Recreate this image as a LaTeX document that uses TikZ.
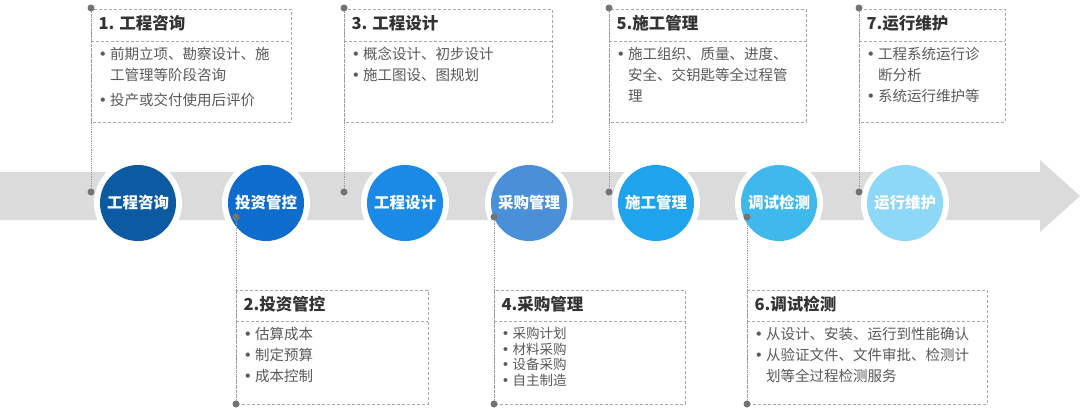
\documentclass[tikz,border=0pt]{standalone}
\usepackage{fontspec}
\setmainfont{Noto Sans CJK SC}
\newfontfamily\dvs{DejaVu Sans}
\newcommand\bul{{\dvs •}\hspace{3pt}}
\newcommand\ind{\phantom{\bul}}
\begin{document}
\begin{tikzpicture}[x=1pt,y=-1pt,
  ring/.style={circle,fill=white,minimum size=88pt,inner sep=0pt},
  disc/.style={circle,minimum size=76pt,inner sep=0pt,text=white,font=\bfseries\fontsize{15.5}{18}\selectfont},
  frame/.style={draw=gray!70,densely dashed,line width=0.7pt},
  guide/.style={draw=gray!80,densely dotted,line width=0.8pt},
  pin/.style={circle,fill=gray!90!black,minimum size=7pt,inner sep=0pt},
  ttl/.style={anchor=west,font=\bfseries\fontsize{16.5}{18}\selectfont,text=black!80},
  body/.style={anchor=north west,align=left,font=\fontsize{14.5}{21}\selectfont,text=black!65}]
\useasboundingbox (0,0) rectangle (1080,408);
\definecolor{c1}{HTML}{0B5AA2}\definecolor{c2}{HTML}{0E6CCC}\definecolor{c3}{HTML}{1A8AE6}
\definecolor{c4}{HTML}{4A90D9}\definecolor{c5}{HTML}{1FA3EC}\definecolor{c6}{HTML}{3FB8EC}\definecolor{c7}{HTML}{8DD7F7}
\fill[gray!28] (0,172) -- (1040,172) -- (1040,160) -- (1080,196) -- (1040,232) -- (1040,220) -- (0,220) -- cycle;
\foreach \x/\c/\t [count=\i] in {138/c1/工程咨询,266/c2/投资管控,405/c3/工程设计,529/c4/采购管理,656/c5/施工管理,779/c6/调试检测,905/c7/运行维护}{
  \node[ring] (r\i) at (\x,203) {};
  \node[disc,fill=\c] (d\i) at (\x,203) {\t};
}
% top boxes
\foreach \l/\r/\n/\t/\b in {
 91/291/1/{1. 工程咨询}/{\bul 前期立项、勘察设计、施\\\ind 工管理等阶段咨询\\[4pt]\bul 投产或交付使用后评价},
 344/552/3/{3. 工程设计}/{\bul 概念设计、初步设计\\\bul 施工图设、图规划},
 609/806/5/{5.施工管理}/{\bul 施工组织、质量、进度、\\\ind 安全、交钥匙等全过程管\\\ind 理},
 859/1005/7/{7.运行维护}/{\bul 工程系统运行诊\\\ind 断分析\\\bul 系统运行维护等}}{
  \draw[frame] (\l,9) rectangle (\r,122);
  \draw[frame] (\l,41) -- (\r,41);
  \node[ttl] (t\n) at (\l+4,23) {\t};
  \node[body] (b\n) at (\l+4,44) {\b};
  \node[pin] (p\n) at (\l,8) {};
  \node[pin] (q\n) at (\l,192) {};
  \draw[guide] (p\n) -- (q\n);
}
% bottom boxes
\foreach \l/\r/\n/\t/\b in {
 236/428/2/{2.投资管控}/{\bul 估算成本\\\bul 制定预算\\\bul 成本控制},
 494/685/4/{4.采购管理}/{\fontsize{13.5}{16}\selectfont \bul 采购计划\\[-5.5pt]\fontsize{13.5}{16}\selectfont \bul 材料采购\\[-5.5pt]\fontsize{13.5}{16}\selectfont \bul 设备采购\\[-5.5pt]\fontsize{13.5}{16}\selectfont \bul 自主制造},
 747/987/6/{6.调试检测}/{\bul 从设计、安装、运行到性能确认\\\bul 从验证文件、文件审批、检测计\\\ind 划等全过程检测服务}}{
  \draw[frame] (\l,290) rectangle (\r,404);
  \draw[frame] (\l,321) -- (\r,321);
  \node[ttl] (t\n) at (\l+4,304) {\t};
  \node[body] (b\n) at (\l+4,324) {\b};
  \node[pin] (p\n) at (\l,404) {};
  \node[pin] (q\n) at (\l,217) {};
  \draw[guide] (q\n) -- (p\n);
}
\end{tikzpicture}
\end{document}
